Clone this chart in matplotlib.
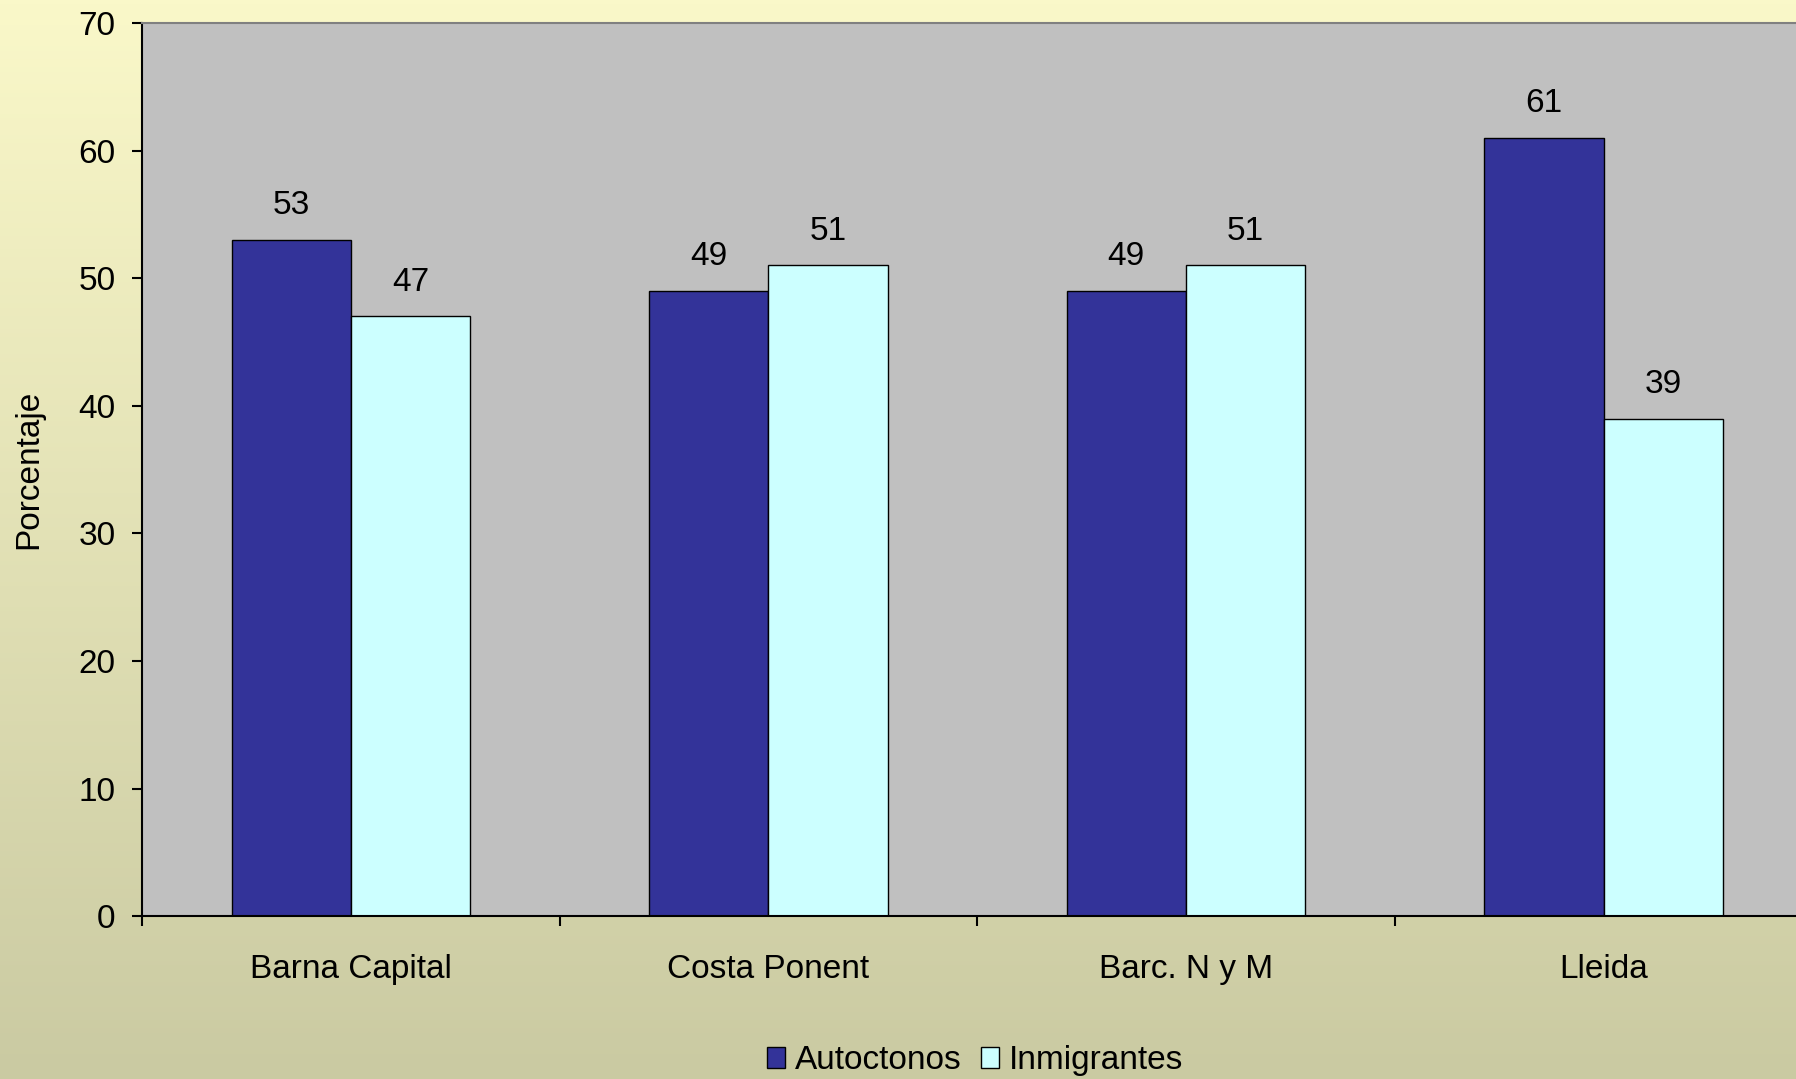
import numpy as np
import matplotlib.pyplot as plt
from matplotlib.colors import LinearSegmentedColormap

plt.rcParams['font.family'] = ['Liberation Sans', 'DejaVu Sans']

# data
categorias = ['Barna Capital', 'Costa Ponent', 'Barc. N y M', 'Lleida']
autoctonos = [53, 49, 49, 61]
inmigrantes = [47, 51, 51, 39]
series = ['Autoctonos', 'Inmigrantes']

fig = plt.figure(figsize=(17.96, 10.79), dpi=100)

# background gradient (light yellow top -> olive beige bottom)
bg = fig.add_axes([0, 0, 1, 1], zorder=-10)
cmap = LinearSegmentedColormap.from_list('bg', ['#cacaa2', '#faf8c9'])
grad = np.linspace(0, 1, 256).reshape(-1, 1)
bg.imshow(grad, aspect='auto', cmap=cmap, origin='lower', extent=[0, 1, 0, 1])
bg.axis('off')

ax = fig.add_axes([0.0791, 0.151, 0.930, 0.8276])
ax.set_facecolor('#c0c0c0')

x = np.arange(len(categorias))
w = 1 / 3.5
b1 = ax.bar(x - w / 2, autoctonos, w, color='#333399', edgecolor='black', linewidth=1.0, label=series[0])
b2 = ax.bar(x + w / 2, inmigrantes, w, color='#ccffff', edgecolor='black', linewidth=1.0, label=series[1])

for bars in (b1, b2):
    for r in bars:
        ax.annotate(f'{r.get_height():g}', (r.get_x() + r.get_width() / 2, r.get_height()),
                    xytext=(0, 13.5), textcoords='offset points', ha='center', va='bottom', fontsize=24)

ax.set_xlim(-0.5, len(categorias) - 0.5)
ax.set_ylim(0, 70)
ax.set_yticks(range(0, 71, 10))
ax.tick_params(axis='y', labelsize=24, length=7.2, width=1.5, pad=12)

ax.set_xticks(x)
ax.set_xticklabels(categorias)
ax.set_xticks(np.arange(-0.5, len(categorias)), minor=True)
ax.tick_params(axis='x', which='major', length=0, labelsize=24, pad=27)
ax.tick_params(axis='x', which='minor', length=7.2, width=1.5)

ax.spines['left'].set_linewidth(1.5)
ax.spines['bottom'].set_linewidth(1.5)
ax.spines['top'].set_color('#808080')
ax.spines['top'].set_linewidth(1.5)
ax.spines['right'].set_visible(False)

ax.set_ylabel('Porcentaje', fontsize=24)
ax.yaxis.set_label_coords(-0.0587, 0.5)

fig.legend(handles=[b1, b2], labels=series, loc='center', bbox_to_anchor=(0.543, 0.017), ncol=2,
           frameon=False, fontsize=24, handlelength=0.55, handleheight=0.6,
           handletextpad=0.3, columnspacing=0.57, borderaxespad=0)

fig.savefig('out.png', dpi=100)
